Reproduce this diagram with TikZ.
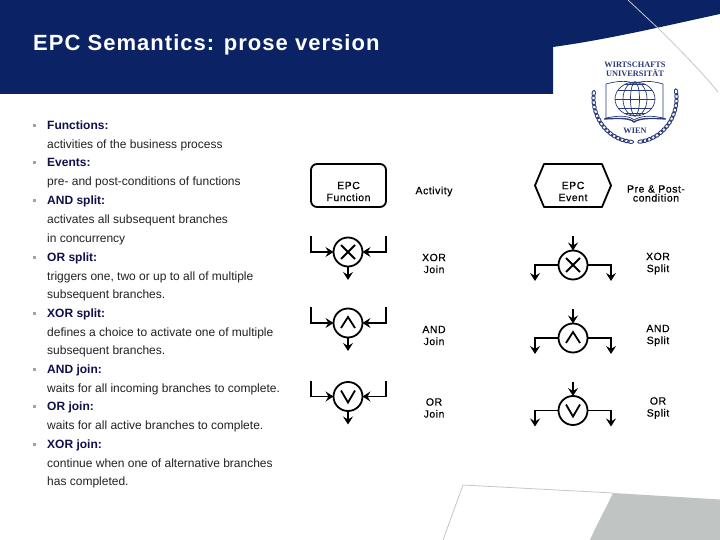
\documentclass[tikz,border=0pt]{standalone}
\usepackage{fontspec}
\setmainfont{Liberation Sans}
\newfontfamily\logofont{Liberation Serif}
\newfontfamily\titlefont[LetterSpace=4.7]{Liberation Sans}
\newfontfamily\labelfont[LetterSpace=5,FakeBold=0.35]{Liberation Sans}
\usetikzlibrary{arrows.meta}
\definecolor{navy}{HTML}{0B2265}
\definecolor{darknavy}{HTML}{10104A}
\definecolor{bodytxt}{HTML}{222222}
\definecolor{swoosh}{HTML}{C0C5C3}
\definecolor{swline}{HTML}{C4C8C6}
\definecolor{bulletc}{HTML}{A0A4A8}
\definecolor{logoc}{HTML}{2A3A78}
\tikzset{
  x=1pt,y=-1pt,
  head/.style={font=\fontsize{12}{14}\selectfont\bfseries,text=darknavy,anchor=base west,inner sep=0pt},
  desc/.style={font=\fontsize{12}{14}\selectfont,text=bodytxt,anchor=base west,inner sep=0pt},
  bul/.style={fill=bulletc,minimum size=3pt,inner sep=0pt,outer sep=0pt},
  lbl/.style={font=\labelfont\fontsize{10.5}{12}\selectfont,align=center,inner sep=0pt,text=black},
  sym/.style={line width=1.8pt,draw=black},
  gate/.style={circle,sym,minimum size=29pt,inner sep=0pt,outer sep=0pt},
  flow/.style={sym,-{Stealth[length=8pt,width=10pt,inset=3pt]}},
  logoline/.style={draw=logoc,line width=.7pt},
}
\newcommand{\bitem}[3]{%
  \node[bul] (b#1) at (34,#2) {};
  \node[head] (h#1) at (47,#2+4) {#3};}
\newcommand{\dline}[3]{\node[desc] (d#1) at (47,#2+4) {#3};}
\newcommand{\joingate}[4]{% name, cx, cy, glyph
  \node[gate] (#1) at (#2,#3) {};
  \coordinate (#1a) at (311,#3-16);
  \coordinate (#1b) at (386,#3-16);
  \coordinate (#1o) at (#2,#3+28);
  \draw[flow] (#1a) |- (#1.west);
  \draw[flow] (#1b) |- (#1.east);
  \draw[flow] (#1.south) -- (#1o);
  #4{#1}}
\newcommand{\splitgate}[4]{%
  \node[gate] (#1) at (#2,#3) {};
  \coordinate (#1i) at (#2,#3-29);
  \coordinate (#1l) at (535,#3+16);
  \coordinate (#1r) at (611,#3+16);
  \draw[flow] (#1i) -- (#1.north);
  \draw[flow] (#1.west) -| (#1l);
  \draw[flow] (#1.east) -| (#1r);
  #4{#1}}
\newcommand{\gx}[1]{\draw[sym,shift={(#1.center)}] (-7,-7) -- (7,7) (-7,7) -- (7,-7);}
\newcommand{\ga}[1]{\draw[sym,shift={(#1.center)}] (-7,5) -- (0,-6) -- (7,5);}
\newcommand{\go}[1]{\draw[sym,shift={(#1.center)}] (-7,-6) -- (0,6) -- (7,-6);}
\begin{document}
\begin{tikzpicture}
\useasboundingbox (0,0) rectangle (720,540);
\fill[white] (0,0) rectangle (720,540);
% header
\fill[navy] (0,0) -- (720,0) -- (720,14) .. controls (660,27) and (610,39) .. (553,47) -- (553,94) -- (0,94) -- cycle;
\draw[swline,line width=.8pt] (628,0) -- (660,30) .. controls (680,50) and (700,70) .. (718,92);
\node[font=\titlefont\fontsize{22}{26}\selectfont\bfseries,text=white,anchor=base west,inner sep=0pt] (title) at (33,51) {EPC Semantics: prose version};
% bottom swoosh
\fill[swoosh] (613,493) -- (720,499.5) -- (720,540) -- (590,540) .. controls (598,522) and (605,510) .. (613,493) -- cycle;
\draw[swline,line width=.8pt] (443,540) -- (463,485) -- (613,493);
% logo
\begin{scope}
 \node[logoc,font=\logofont\fontsize{8.3}{9}\selectfont\bfseries,inner sep=0pt] (l1) at (635,64.5) {WIRTSCHAFTS};
 \node[logoc,font=\logofont\fontsize{8.3}{9}\selectfont\bfseries,inner sep=0pt] (l2) at (635,73) {UNIVERSITÄT};
 \node[logoc,font=\logofont\fontsize{8.3}{9}\selectfont\bfseries,inner sep=0pt] (l3) at (635,131) {WIEN};
 \draw[logoline] (606,84) .. controls (620,80) and (630,81) .. (634,84) .. controls (640,81) and (650,80) .. (663,84) -- (663,118) .. controls (650,115) and (640,116) .. (634,120) .. controls (630,116) and (620,115) .. (606,118) -- cycle;
 \draw[logoline,line width=1.4pt] (604,119) .. controls (620,118) and (630,118) .. (634,122) .. controls (640,118) and (650,118) .. (666,119);
 \draw[logoline] (635,99) ellipse [x radius=20,y radius=17];
 \draw[logoline] (635,99) ellipse [x radius=12,y radius=17];
 \draw[logoline] (635,99) ellipse [x radius=4.5,y radius=17];
 \draw[logoline] (615,99) -- (655,99) (618,90) -- (652,90) (618,108) -- (652,108) (625,84.5) -- (645,84.5) (625,113.5) -- (645,113.5);
 \foreach \a in {-8,-2,...,84,96,102,...,188}{
   \pgfmathsetmacro{\lx}{635+41.5*cos(\a)}
   \pgfmathsetmacro{\ly}{98+44*sin(\a)}
   \pgfmathsetmacro{\lr}{-\a-90}
   \draw[logoline,line width=.9pt] (\lx,\ly) ellipse [x radius=3,y radius=1.7,rotate=\lr];
 }
\end{scope}
% text
\bitem{1}{126}{Functions:}
\dline{1}{144.5}{activities of the business process}
\bitem{2}{163}{Events:}
\dline{2}{182}{pre- and post-conditions of functions}
\bitem{3}{201}{AND split:}
\dline{3a}{219.5}{activates all subsequent branches}
\dline{3b}{238}{in concurrency}
\bitem{4}{257}{OR split:}
\dline{4a}{276}{triggers one, two or up to all of multiple}
\dline{4b}{294.5}{subsequent branches.}
\bitem{5}{313}{XOR split:}
\dline{5a}{332}{defines a choice to activate one of multiple}
\dline{5b}{350.5}{subsequent branches.}
\bitem{6}{369}{AND join:}
\dline{6}{388}{waits for all incoming branches to complete.}
\bitem{7}{406.5}{OR join:}
\dline{7}{425.5}{waits for all active branches to complete.}
\bitem{8}{444}{XOR join:}
\dline{8a}{463}{continue when one of alternative branches}
\dline{8b}{481.5}{has completed.}
% symbols
\node[sym,rounded corners=6pt,minimum width=75pt,minimum height=43pt,inner sep=0pt] (fn) at (348.5,185.5) {};
\node[lbl] (fnl) at (348.5,191.5) {EPC\\Function};
\node[lbl] (act) at (434,191.5) {Activity};
\draw[sym,line join=round] (544,164) coordinate (e1) -- (602,164) -- (611,185.5) -- (602,207) -- (544,207) -- (535,185.5) -- cycle;
\node[lbl] (ev) at (573,191.5) {EPC\\Event};
\node[lbl,font=\labelfont\fontsize{10.5}{9}\selectfont] (pre) at (656,193.5) {Pre \& Post-\\condition};
\joingate{j1}{348}{252}{\gx}
\joingate{j2}{348}{323}{\ga}
\joingate{j3}{348}{396.5}{\go}
\splitgate{s1}{573}{265}{\gx}
\splitgate{s2}{573}{338}{\ga}
\splitgate{s3}{573}{410.5}{\go}
\node[lbl] (t1) at (434,263.5) {XOR\\Join};
\node[lbl] (t2) at (434,335.5) {AND\\Join};
\node[lbl] (t3) at (434,408) {OR\\Join};
\node[lbl] (u1) at (658,263.5) {XOR\\Split};
\node[lbl] (u2) at (658,335.5) {AND\\Split};
\node[lbl] (u3) at (658,408) {OR\\Split};
\end{tikzpicture}
\end{document}
